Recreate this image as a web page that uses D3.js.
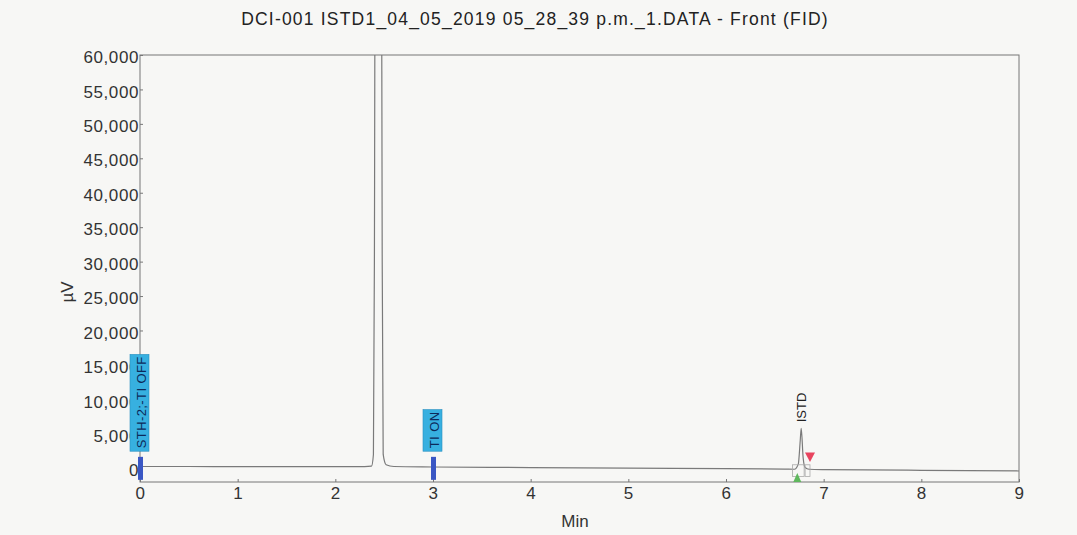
<!DOCTYPE html>
<html>
<head>
<meta charset="utf-8">
<script src="https://cdn.jsdelivr.net/npm/d3@7"></script>
<style>
  body { margin:0; background:#f7f7f5; }
  svg { display:block; font-family:"Liberation Sans", Arial, sans-serif; }
  .axis text { fill:#333; font-size:17px; letter-spacing:0.6px; }
  .axis path, .axis line { stroke:#777; }
</style>
</head>
<body>
<div id="chart"></div>
<script>
// chromatogram (min, µV)
var timeMin = [0, 0.5, 1, 1.5, 2, 2.3, 2.37, 2.39, 2.40, 2.41, 2.47, 2.48, 2.49, 2.52, 2.6, 3, 4, 5, 6, 6.6, 6.70, 6.74, 6.76, 6.77, 6.79, 6.81, 6.85, 7, 8, 9];
var signal  = [250, 250, 240, 240, 230, 230, 300, 2000, 30000, 90000, 90000, 30000, 2000, 500, 250, 180, 100, 20, -60, -120, -150, 600, 4000, 5800, 1500, 100, -150, -200, -300, -400];

var yTicks = [0, 5000, 10000, 15000, 20000, 25000, 30000, 35000, 40000, 45000, 50000, 55000, 60000];
var xTicks = [0, 1, 2, 3, 4, 5, 6, 7, 8, 9];

// timed events (blue flags)
var eventTimes  = [0, 3];
var eventLabels = ["STH-2;-TI OFF", "TI ON"];

// peak annotation
var peakTime = 6.77, peakValue = 5800, peakName = "ISTD";
var peakStart = 6.73, peakEnd = 6.86;

var title = "DCI-001 ISTD1_04_05_2019 05_28_39 p.m._1.DATA - Front (FID)";

var W = 1077, H = 535;
var margin = {top:55, left:140, right:58, bottom:53};
var width = W - margin.left - margin.right,
    height = H - margin.top - margin.bottom;

var svg = d3.select("#chart").append("svg")
    .attr("width", W).attr("height", H);

var g = svg.append("g")
    .attr("transform", "translate(" + margin.left + "," + margin.top + ")");

var x = d3.scaleLinear().domain([0, 9]).range([0, width]);
var y = d3.scaleLinear().domain([-2000, 60000]).range([height, 0]);

svg.append("text")
  .attr("x", 535).attr("y", 25)
  .attr("text-anchor", "middle")
  .attr("fill", "#222")
  .style("font-size", "17.5px")
  .style("letter-spacing", "1.2px")
  .text(title);

// frame
g.append("rect")
  .attr("width", width).attr("height", height)
  .attr("fill", "none").attr("stroke", "#777").attr("stroke-width", 1);

var xAxis = g.append("g").attr("class", "axis")
  .attr("transform", "translate(0," + height + ")")
  .call(d3.axisBottom(x).tickValues(xTicks).tickSize(-3).tickPadding(5).tickFormat(d3.format("d")));
xAxis.select(".domain").remove();

var yAxis = g.append("g").attr("class", "axis")
  .call(d3.axisLeft(y).tickValues(yTicks).tickSize(-3).tickPadding(1).tickFormat(d3.format(",")));
yAxis.select(".domain").remove();
yAxis.selectAll("text").attr("dy", "0.45em");

svg.append("text")
  .attr("x", 575).attr("y", 527)
  .attr("text-anchor", "middle").attr("fill", "#333")
  .style("font-size", "17px").text("Min");

svg.append("text")
  .attr("transform", "translate(73,292) rotate(-90)")
  .attr("text-anchor", "middle").attr("fill", "#333")
  .style("font-size", "17px").text("µV");

// trace
g.append("clipPath").attr("id", "clip")
  .append("rect").attr("width", width).attr("height", height);

var pts = timeMin.map(function(t, i) { return [t, signal[i]]; });
var line = d3.line()
  .x(function(d) { return x(d[0]); })
  .y(function(d) { return y(d[1]); })
  .curve(d3.curveMonotoneX);

g.append("path")
  .datum(pts)
  .attr("clip-path", "url(#clip)")
  .attr("fill", "none")
  .attr("stroke", "#7a7a7a")
  .attr("stroke-width", 1.2)
  .attr("d", line);

// integration boxes round the ISTD peak
var boxes = [[peakStart - 0.05, peakTime + 0.03], [peakTime + 0.04, peakEnd]];
g.selectAll(".ibox").data(boxes).enter().append("rect")
  .attr("class", "ibox")
  .attr("x", function(d) { return x(d[0]); })
  .attr("width", function(d) { return x(d[1]) - x(d[0]); })
  .attr("y", y(500))
  .attr("height", y(-1200) - y(500))
  .attr("fill", "none").attr("stroke", "#aaa").attr("stroke-width", 0.8);

// peak start / end markers
g.append("path")
  .attr("d", "M" + x(peakStart) + "," + y(-700) + "l-4," + (y(-2000) - y(-700)) + "h8z")
  .attr("fill", "#5fb85d");
g.append("path")
  .attr("d", "M" + (x(peakEnd) - 5) + "," + y(2300) + "h10l-5," + (y(900) - y(2300)) + "z")
  .attr("fill", "#e8445e");

g.append("text")
  .attr("transform", "translate(" + (x(peakTime) + 5) + "," + (y(peakValue) - 6) + ") rotate(-90)")
  .attr("fill", "#222").style("font-size", "13px")
  .text(peakName);

// event flags
var ev = g.selectAll(".event").data(eventTimes).enter().append("g")
  .attr("class", "event")
  .attr("transform", function(d) { return "translate(" + x(d) + ",0)"; });

ev.append("rect")
  .attr("x", -2).attr("width", 5)
  .attr("y", y(200) - 10).attr("height", 23)
  .attr("fill", "#3a57c4");

ev.each(function(d, i) {
  var s = d3.select(this);
  var t = s.append("text")
    .attr("transform", "translate(5.5," + (y(0) - 20) + ") rotate(-90)")
    .attr("fill", "#0c2a5a").style("font-size", "13px")
    .style("letter-spacing", "0.4px")
    .text(eventLabels[i]);
  var len = t.node().getComputedTextLength();
  s.insert("rect", "text")
    .attr("x", -10).attr("width", 19)
    .attr("y", y(0) - 17 - len - 5).attr("height", len + 5)
    .attr("fill", "#37b0e0").attr("stroke", "#2a8fc0").attr("stroke-width", 0.6);
});
</script>
</body>
</html>
